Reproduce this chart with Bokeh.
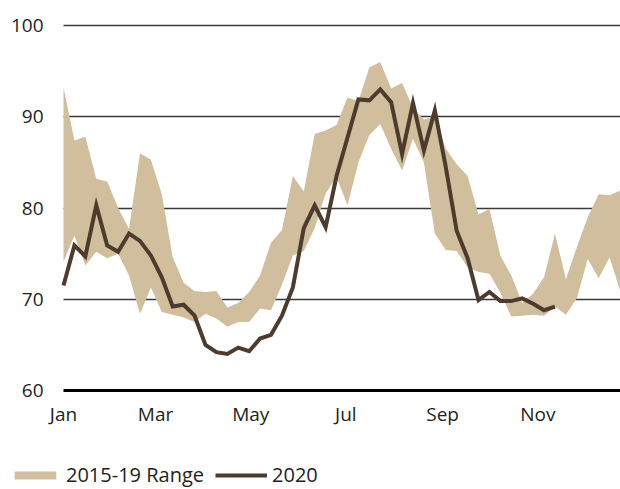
from bokeh.plotting import figure
from bokeh.models import Range1d, FixedTicker, Legend, LegendItem, ColumnDataSource
from bokeh.embed import file_html
from bokeh.resources import INLINE

# week index of each weekly observation (0 = first week of January)
weeks = list(range(52))

range_low = [74.1, 77.0, 73.7, 75.2, 74.5, 75.0, 72.6, 68.4, 71.3, 68.6,
             68.3, 68.0, 67.5, 68.4, 67.9, 67.0, 67.5, 67.5, 69.0, 68.8,
             71.6, 74.8, 75.3, 77.8, 81.6, 83.4, 80.3, 85.0, 88.0, 89.2,
             86.5, 84.1, 87.6, 85.0, 77.2, 75.4, 75.3, 73.5, 73.0, 72.8,
             70.7, 68.1, 68.2, 68.3, 68.2, 69.2, 68.3, 70.1, 74.4, 72.3,
             74.6, 70.8]

range_high = [93.2, 87.4, 87.8, 83.2, 82.9, 80.0, 77.7, 86.0, 85.3, 81.5,
              74.6, 71.8, 70.9, 70.8, 70.9, 69.1, 69.6, 70.8, 72.6, 76.2,
              77.6, 83.5, 81.8, 88.1, 88.5, 89.1, 92.1, 91.7, 95.4, 96.0,
              93.1, 93.7, 91.0, 89.7, 90.0, 86.5, 84.8, 83.5, 79.3, 79.9,
              74.8, 72.6, 69.6, 70.6, 72.4, 77.2, 72.2, 75.7, 79.0, 81.5,
              81.4, 81.9]

weeks_2020 = list(range(46))
values_2020 = [71.5, 75.9, 74.7, 80.3, 75.9, 75.2, 77.2, 76.4, 74.8, 72.4,
               69.2, 69.4, 68.2, 65.0, 64.2, 64.0, 64.7, 64.3, 65.7, 66.1,
               68.2, 71.3, 77.8, 80.3, 77.9, 83.5, 87.7, 91.9, 91.8, 93.0,
               91.6, 85.9, 91.5, 86.3, 90.7, 84.5, 77.5, 74.5, 69.9, 70.8,
               69.8, 69.8, 70.1, 69.5, 68.8, 69.2]

# x-axis month labels and the day of year on which each month starts
month_labels = ["Jan", "Mar", "May", "Jul", "Sep", "Nov"]
month_start_day = [0, 59, 120, 181, 243, 304]

y_ticks = [60, 70, 80, 90, 100]
grid_ticks = [70, 80, 90, 100]

FONT = "Open Sans"
TEXT = "#231f20"
FS = "19px"
BAND_COLOR = "#D0BE9C"
LINE_COLOR = "#4D3B2E"

# layout in pixels: chart area spans x 63..620, y 25 (=100) .. 390 (=60)
W, H = 620, 489
PLOT_L, PLOT_T, PLOT_B = 63, 25, 390
X0, X1 = weeks[0], weeks[-1]
Y0, Y1 = 60, 100
px_per_week = (W - PLOT_L) / (X1 - X0)
px_per_unit = (PLOT_B - PLOT_T) / (Y1 - Y0)

p = figure(width=W, height=H, output_backend="svg", toolbar_location=None,
           x_range=Range1d(X0 - PLOT_L / px_per_week, X1),
           y_range=Range1d(Y0 - (H - PLOT_B) / px_per_unit,
                           Y1 + PLOT_T / px_per_unit),
           min_border_left=0, min_border_right=0, min_border_top=0,
           min_border_bottom=0)
p.outline_line_color = None
p.background_fill_color = "white"
p.border_fill_color = "white"

band_src = ColumnDataSource(dict(x=weeks, lo=range_low, hi=range_high))
band = p.varea(x="x", y1="lo", y2="hi", source=band_src,
               fill_color=BAND_COLOR, fill_alpha=1.0)

line_src = ColumnDataSource(dict(x=weeks_2020, y=values_2020))
ln = p.line(x="x", y="y", source=line_src, line_color=LINE_COLOR,
            line_width=4, line_join="miter")

# grid
p.xgrid.grid_line_color = None
p.ygrid.ticker = FixedTicker(ticks=grid_ticks)
p.ygrid.grid_line_color = "#3a3a3a"
p.ygrid.grid_line_width = 1.3
p.ygrid.cross_bounds = (X0, X1)
p.ygrid.level = "underlay"

# y axis, pinned at the first week
p.yaxis.fixed_location = X0
p.yaxis.ticker = FixedTicker(ticks=y_ticks)
p.yaxis.bounds = (Y0, Y1)
p.yaxis.axis_line_color = None
p.yaxis.major_tick_line_color = None
p.yaxis.major_tick_out = 0
p.yaxis.major_tick_in = 0
p.yaxis.minor_tick_line_color = None
p.yaxis.major_label_standoff = 20
p.yaxis.major_label_text_font = FONT
p.yaxis.major_label_text_font_size = FS
p.yaxis.major_label_text_color = TEXT

# x axis, pinned at 60
p.xaxis.fixed_location = Y0
p.xaxis.ticker = FixedTicker(ticks=[d / 7 for d in month_start_day])
p.xaxis.major_label_overrides = {d / 7: lab for d, lab in zip(month_start_day, month_labels)}
p.xaxis.bounds = (X0, X1)
p.xaxis.axis_line_color = "black"
p.xaxis.axis_line_width = 3
p.xaxis.major_tick_line_color = None
p.xaxis.major_tick_out = 0
p.xaxis.major_tick_in = 0
p.xaxis.minor_tick_line_color = None
p.xaxis.major_label_standoff = 10
p.xaxis.major_label_text_font = FONT
p.xaxis.major_label_text_font_size = FS
p.xaxis.major_label_text_color = TEXT

legend = Legend(items=[LegendItem(label="2015-19 Range", renderers=[band]),
                       LegendItem(label="2020", renderers=[ln])],
                location=(9, 1), orientation="horizontal",
                glyph_width=52, glyph_height=10, label_height=20,
                label_standoff=5, spacing=11, padding=0, margin=0,
                border_line_color=None, background_fill_alpha=0,
                label_text_font=FONT, label_text_font_size="20px",
                label_text_color=TEXT)
p.add_layout(legend, "center")

open("out.html", "w").write(file_html(p, INLINE))
